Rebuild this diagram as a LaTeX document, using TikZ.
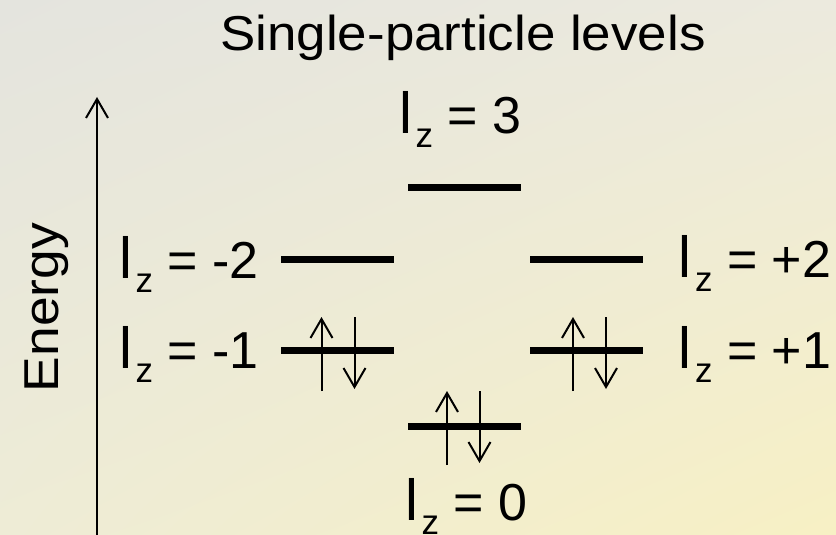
\documentclass[tikz,border=0pt]{standalone}
\usepackage{fontspec}
\setmainfont{Liberation Sans}
\usetikzlibrary{arrows.meta,shadings}
\definecolor{bgUL}{RGB}{228,228,222}
\definecolor{bgUR}{RGB}{236,234,222}
\definecolor{bgLL}{RGB}{238,236,214}
\definecolor{bgLR}{RGB}{247,240,196}
\newcommand{\lzlabel}[1]{{\fontsize{58}{60}\selectfont l}\kern3.5pt\raisebox{-14pt}{\fontsize{35}{35}\selectfont z}\ =\ #1}
\tikzset{
  lvl/.style={line width=7pt},
  spin/.style={line width=2pt,-{Straight Barb[length=19pt,width=22pt,line width=2pt]}},
  lbl/.style={inner sep=0pt,anchor=base west,font=\fontsize{52}{60}\selectfont},
  bigtxt/.style={inner sep=0pt,anchor=base,font=\fontsize{49}{55}\selectfont},
}
\begin{document}
\begin{tikzpicture}[x=1pt,y=-1pt]
\useasboundingbox (0,0) rectangle (836,535);
\shade[upper left=bgUL,upper right=bgUR,lower left=bgLL,lower right=bgLR] (0,0) rectangle (836,535);
% title and axis label
\node[bigtxt] (title) at (463,50.5) {\scalebox{1.08}[1]{Single-particle levels}};
\node[bigtxt,rotate=90] (energy) at (58,307.5) {\scalebox{1.09}[1]{Energy}};
% energy axis
\coordinate (axB) at (97,540);
\coordinate (axT) at (97,97);
\draw[spin] (axB) -- (axT);
% level endpoints
\coordinate (l3a) at (408,187); \coordinate (l3b) at (521,187);
\coordinate (m2a) at (281,259); \coordinate (m2b) at (394,259);
\coordinate (p2a) at (530,259); \coordinate (p2b) at (643,259);
\coordinate (m1a) at (281,350); \coordinate (m1b) at (394,350);
\coordinate (p1a) at (530,350); \coordinate (p1b) at (643,350);
\coordinate (z0a) at (408,426); \coordinate (z0b) at (521,426);
\draw[lvl] (l3a) -- (l3b);
\draw[lvl] (m2a) -- (m2b);
\draw[lvl] (p2a) -- (p2b);
\draw[lvl] (m1a) -- (m1b);
\draw[lvl] (p1a) -- (p1b);
\draw[lvl] (z0a) -- (z0b);
% spins
\coordinate (m1u0) at (321.5,391); \coordinate (m1u1) at (321.5,317);
\coordinate (m1d0) at (354.5,317); \coordinate (m1d1) at (354.5,389);
\coordinate (p1u0) at (573,391); \coordinate (p1u1) at (573,317);
\coordinate (p1d0) at (606,317); \coordinate (p1d1) at (606,389);
\coordinate (z0u0) at (447,465); \coordinate (z0u1) at (447,391);
\coordinate (z0d0) at (479.5,391); \coordinate (z0d1) at (479.5,463);
\draw[spin] (m1u0) -- (m1u1);
\draw[spin] (m1d0) -- (m1d1);
\draw[spin] (p1u0) -- (p1u1);
\draw[spin] (p1d0) -- (p1d1);
\draw[spin] (z0u0) -- (z0u1);
\draw[spin] (z0d0) -- (z0d1);
% labels
\node[lbl] (t3) at (399,133) {\lzlabel{3}};
\node[lbl] (tm2) at (119,278) {\lzlabel{-2}};
\node[lbl] (tm1) at (119,368) {\lzlabel{-1}};
\node[lbl] (tp2) at (678.5,277) {\lzlabel{+2}};
\node[lbl] (tp1) at (678.5,368) {\lzlabel{+1}};
\node[lbl] (t0) at (405,520) {\lzlabel{0}};
\end{tikzpicture}
\end{document}
